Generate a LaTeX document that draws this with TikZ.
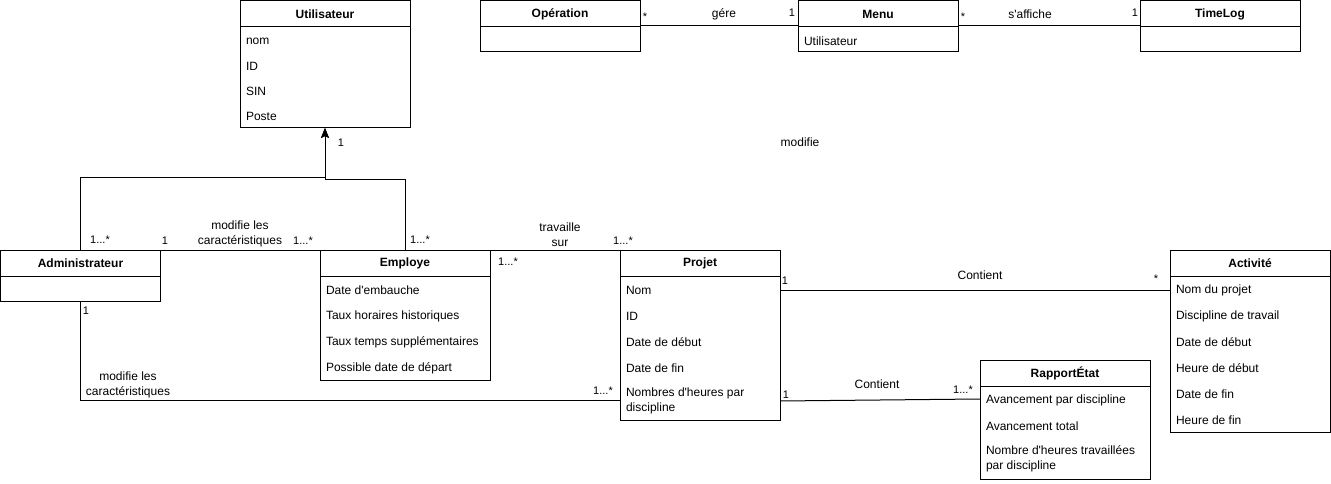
\documentclass[tikz,border=0pt]{standalone}
\usepackage{fontspec}
\setmainfont{Liberation Sans}
\usetikzlibrary{arrows.meta}

% class box: name, x, y (top), width, height, title
\newcommand{\umlclass}[6]{%
  \node[box, minimum width=#4pt, minimum height=#5pt] (#1) at (#2,#3) {};
  \draw[link] ([yshift=-26pt]#1.north west) -- ([yshift=-26pt]#1.north east);
  \node[hdr] (#1-title) at ([yshift=-13pt]#1.north) {#6};
}
% attribute line: name, box, offset from top, text
\newcommand{\umlattr}[4]{%
  \node[attr] (#1) at ([xshift=6pt,yshift=-#3pt]#2.north west) {#4};
}
% straight apostrophe
\newcommand{\ap}{\textquotesingle}

\begin{document}
\begin{tikzpicture}[x=1pt,y=-1pt,
  every node/.style={inner sep=0pt, outer sep=0pt},
  box/.style={draw, line width=1pt, fill=white, anchor=north west, rectangle},
  hdr/.style={font=\fontsize{12}{14}\selectfont\bfseries},
  attr/.style={anchor=west, align=left, font=\fontsize{12}{15}\selectfont},
  lbl/.style={align=center, font=\fontsize{12}{15}\selectfont},
  mult/.style={font=\fontsize{11}{13}\selectfont},
  link/.style={line width=1pt},
  inherit/.style={link, -{Stealth[length=10pt,width=8pt,inset=2pt]}},
]
\fill[white] (0,0) rectangle (1331,484);
\useasboundingbox (0,0) rectangle (1331,484);

% ---- classes ----
\umlclass{util}{240}{1}{170}{127}{Utilisateur}
\umlattr{util-a1}{util}{40}{nom}
\umlattr{util-a2}{util}{65}{ID}
\umlattr{util-a3}{util}{90}{SIN}
\umlattr{util-a4}{util}{115}{Poste}

\umlclass{op}{480}{1}{160}{51}{Opération}
\umlclass{menu}{798}{1}{160}{51}{Menu}
\umlattr{menu-a1}{menu}{40}{Utilisateur}
\umlclass{tlog}{1140}{1}{160}{51}{TimeLog}

\umlclass{admin}{0.5}{250}{160}{51}{Administrateur}

\umlclass{emp}{320}{250}{170}{130}{Employe}
\umlattr{emp-a1}{emp}{40}{Date d\ap embauche}
\umlattr{emp-a2}{emp}{66}{Taux horaires historiques}
\umlattr{emp-a3}{emp}{92}{Taux temps supplémentaires}
\umlattr{emp-a4}{emp}{118}{Possible date de départ}

\umlclass{proj}{620}{250}{160}{170}{Projet}
\umlattr{proj-a1}{proj}{40}{Nom}
\umlattr{proj-a2}{proj}{66}{ID}
\umlattr{proj-a3}{proj}{92}{Date de début}
\umlattr{proj-a4}{proj}{118}{Date de fin}
\umlattr{proj-a5}{proj}{151}{Nombres d\ap heures par\\discipline}

\umlclass{act}{1170}{250}{160}{182}{Activité}
\umlattr{act-a1}{act}{40}{Nom du projet}
\umlattr{act-a2}{act}{66}{Discipline de travail}
\umlattr{act-a3}{act}{92}{Date de début}
\umlattr{act-a4}{act}{118}{Heure de début}
\umlattr{act-a5}{act}{144}{Date de fin}
\umlattr{act-a6}{act}{170}{Heure de fin}

\umlclass{rap}{980}{360}{170}{119}{RapportÉtat}
\umlattr{rap-a1}{rap}{40}{Avancement par discipline}
\umlattr{rap-a2}{rap}{66}{Avancement total}
\umlattr{rap-a3}{rap}{99}{Nombre d\ap heures travaillées\\par discipline}

% ---- connectors ----
\draw[link] ([yshift=-25pt]op.north east) -- ([yshift=-25pt]menu.north west);
\draw[link] ([yshift=-25pt]menu.north east) -- ([yshift=-25pt]tlog.north west);

\draw[inherit] (admin.north) |- ([yshift=-50pt]util.south) -- (util.south);
\draw[inherit] (emp.north) |- ([yshift=-52pt]util.south) -- (util.south);

\draw[link] (admin.north east) -- (emp.north west);
\draw[link] (emp.north east) -- (proj.north west);
\draw[link] (admin.south) |- ([yshift=-150pt]proj.north west);
\draw[link] ([yshift=-40pt]proj.north east) -- ([yshift=-40pt]act.north west);
\draw[link] ([yshift=-151pt]proj.north east) -- ([yshift=-39pt]rap.north west);

% ---- association labels and multiplicities ----
\node[mult] (m-op) at (645,17) {*};
\node[lbl] (l-gere) at (724,14) {gére};
\node[mult] (m-menu1) at (792,13) {1};
\node[mult] (m-menu2) at (963,17) {*};
\node[lbl] (l-affiche) at (1030,14) {s\ap affiche};
\node[mult] (m-tlog) at (1135,13) {1};

\node[lbl] (l-modifie) at (800,142) {modifie};

\node[mult] (m-util) at (341,143) {1};
\node[mult] (m-adm-inh) at (100,240) {1...*};
\node[mult] (m-emp-inh) at (420,240) {1...*};

\node[mult] (m-adm-emp1) at (165,241) {1};
\node[lbl] (l-adm-emp) at (240,234) {modifie les\\caractéristiques};
\node[mult] (m-adm-emp2) at (303,241) {1...*};

\node[lbl] (l-travaille) at (560,235) {travaille\\sur};
\node[mult] (m-emp-proj1) at (508,262) {1...*};
\node[mult] (m-emp-proj2) at (623,241) {1...*};

\node[mult] (m-adm-proj1) at (86,311) {1};
\node[lbl] (l-adm-proj) at (128,385) {modifie les\\caractéristiques};
\node[mult] (m-adm-proj2) at (603,391) {1...*};

\node[mult] (m-proj-act1) at (785,281) {1};
\node[lbl] (l-contient1) at (980,275) {Contient};
\node[mult] (m-proj-act2) at (1156,279) {*};

\node[mult] (m-proj-rap1) at (786,395) {1};
\node[lbl] (l-contient2) at (877,384) {Contient};
\node[mult] (m-proj-rap2) at (963,390) {1...*};
\end{tikzpicture}
\end{document}
